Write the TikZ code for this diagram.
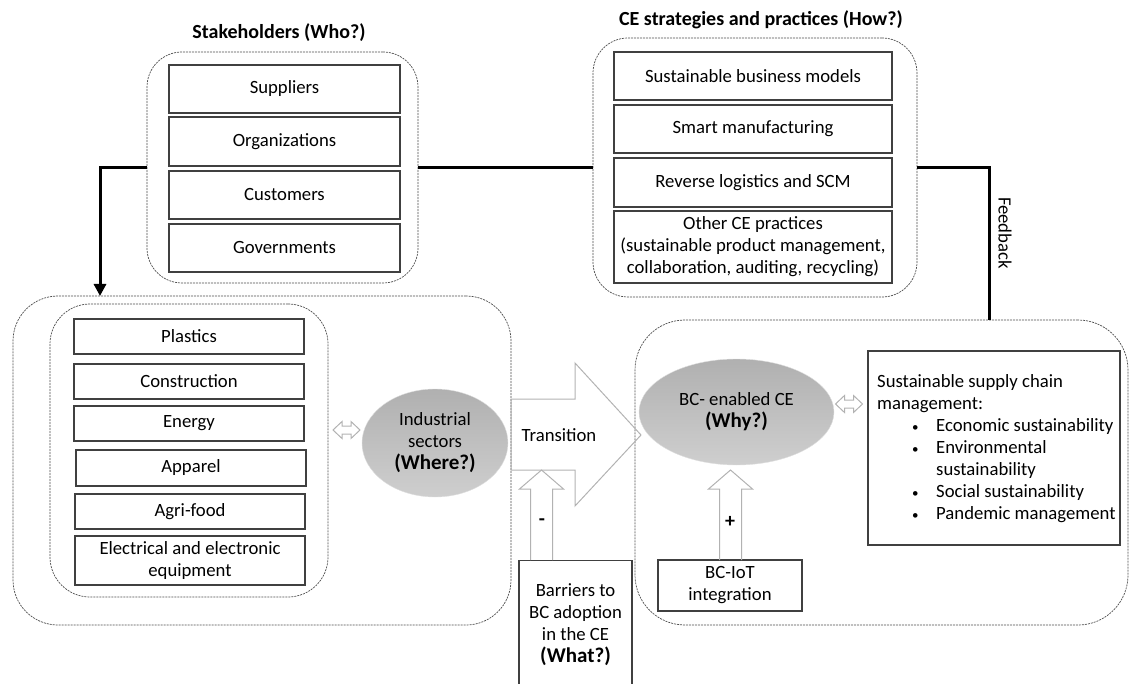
\documentclass[tikz,border=0pt]{standalone}
\usepackage{fontspec}
\setmainfont{Carlito}
\usetikzlibrary{shapes.geometric,arrows.meta}

\tikzset{
  item/.style={draw=black!75, line width=1.1pt, fill=white, align=center, inner sep=0pt},
  group/.style={draw=black!70, line width=0.7pt, dash pattern=on 2pt off 1pt,
    rounded corners=#1, inner sep=0pt, outer sep=0pt},
  bubble/.style={ellipse, top color=black!31, bottom color=black!19, draw=black!12, align=center, inner sep=0pt},
  hollow/.style={draw=black!30, line width=1pt, line join=miter},
  fb/.style={line width=3pt},
  title/.style={font=\fontsize{20}{24}\selectfont\bfseries}
}
% hollow up arrow: centre x, tip y, foot y
\def\hollowup(#1,#2,#3){\draw[hollow] (#1-11,#3) -- (#1-11,#2+19) -- (#1-22,#2+19) -- (#1,#2)
  -- (#1+22,#2+19) -- (#1+11,#2+19) -- (#1+11,#3);}
% hollow double arrow: centre x, centre y
\def\hollowboth(#1,#2){\draw[hollow] (#1-13.5,#2) -- (#1-4.5,#2-8.5) -- (#1-4.5,#2-4) -- (#1+4.5,#2-4)
  -- (#1+4.5,#2-8.5) -- (#1+13.5,#2) -- (#1+4.5,#2+8.5) -- (#1+4.5,#2+4) -- (#1-4.5,#2+4)
  -- (#1-4.5,#2+8.5) -- cycle;}
\newcommand{\bulletmark}{\makebox[24pt][l]{\fontsize{13}{13}\selectfont\textbullet}}
\newcommand{\bigbold}[1]{{\fontsize{21}{22}\selectfont\bfseries #1}}

\begin{document}
\begin{tikzpicture}[x=1pt,y=-1pt,font=\fontsize{18.7}{22}\selectfont]
	\useasboundingbox (0,0) rectangle (1129,684);
	
	%%%%% groups %%%%%
	\node[group=45, minimum width=498pt, minimum height=329pt] (leftzone) at (262,460.5) {};
	\node[group=50, minimum width=493pt, minimum height=305pt] (rightzone) at (881.5,472.5) {};
	\node[group=40, minimum width=278pt, minimum height=293pt] (sectors) at (189,450.5) {};
	\node[group=35, minimum width=271pt, minimum height=231pt] (stake) at (282.5,167.5) {};
	\node[group=35, minimum width=324pt, minimum height=259pt] (ce) at (755,167.5) {};
	
	\node[title] (staketitle) at (279,33) {Stakeholders (Who?)};
	\node[title] (cetitle) at (761,20) {CE strategies and practices (How?)};
	
	%%%%% stakeholders %%%%%
	\node[item, minimum width=231pt, minimum height=48pt] (suppliers) at (284.5,89) {Suppliers};
	\node[item, minimum width=231pt, minimum height=49pt] (organizations) at (284.5,141.5) {Organizations};
	\node[item, minimum width=231pt, minimum height=48pt] (customers) at (284.5,195) {Customers};
	\node[item, minimum width=231pt, minimum height=48pt] (governments) at (284.5,248) {Governments};
	
	%%%%% CE practices %%%%%
	\node[item, minimum width=278pt, minimum height=48pt] (business) at (753,76) {Sustainable business models};
	\node[item, minimum width=278pt, minimum height=48pt] (smart) at (753,129) {Smart manufacturing};
	\node[item, minimum width=278pt, minimum height=49pt] (reverse) at (753,182.5) {Reverse logistics and SCM};
	\node[item, minimum width=278pt, minimum height=72pt] (otherce) at (753,247) {Other CE practices\\(sustainable product management,\\collaboration, auditing, recycling)};
	
	%%%%% feedback %%%%%
	\coordinate (fbfoot) at (989,320);
	\coordinate (fbdrop) at (100,296);
	\draw[fb] (fbfoot) |- (ce.east);
	\draw[fb] (ce.west) -- (stake.east);
	\draw[fb, -{Triangle[width=12pt,length=12pt]}] (stake.west) -| (fbdrop);
	\node[rotate=-90] (fblabel) at (1005,233) {Feedback};
	
	%%%%% sectors %%%%%
	\node[item, minimum width=230pt, minimum height=35pt] (plastics) at (189,336.5) {Plastics};
	\node[item, minimum width=230pt, minimum height=35pt] (construction) at (189,381.5) {Construction};
	\node[item, minimum width=230pt, minimum height=35pt] (energy) at (189,423.5) {Energy};
	\node[item, minimum width=230pt, minimum height=36pt] (apparel) at (191,468) {Apparel};
	\node[item, minimum width=230pt, minimum height=35pt] (agrifood) at (190,511.5) {Agri-food};
	\node[item, minimum width=230pt, minimum height=49pt] (electrical) at (190,560.5) {Electrical and electronic\\equipment};
	
	\hollowboth(346.5,430)
	\node[bubble, minimum width=146pt, minimum height=108pt] (industry) at (435,443) {Industrial\\sectors\\\bigbold{(Where?)}};
	
	%%%%% transition %%%%%
	\draw[hollow] (511,399) -- (575,399) -- (575,363) -- (641,435) -- (575,506) -- (575,470) -- (511,470) -- cycle;
	\node (translabel) at (559,435) {Transition};
	
	\node[item, minimum width=113pt, minimum height=128pt, anchor=north] (barriers) at (575.5,560) {Barriers to\\BC adoption\\in the CE\\\bigbold{(What?)}};
	\hollowup(541.5,470,560)
	\node[font=\fontsize{20}{22}\selectfont\bfseries] (minus) at (542,522) {-};
	
	%%%%% BC-enabled CE %%%%%
	\node[bubble, minimum width=195pt, minimum height=106pt] (bcce) at (736.5,412) {BC- enabled CE\\\bigbold{(Why?)}};
	\node[item, minimum width=144pt, minimum height=51pt] (iot) at (730,585.5) {BC-IoT\\integration};
	\hollowup(730.5,470,560)
	\node[font=\fontsize{20}{22}\selectfont\bfseries] (plus) at (730,522) {+};
	
	\hollowboth(849,404)
	\node[item, minimum width=252pt, minimum height=194pt] (sscm) at (994,448) {};
	\node[anchor=north west, align=left, inner sep=0pt] (sscmtext) at (877,374) {Sustainable supply chain\\management:\\
	  \hspace*{35pt}\bulletmark Economic sustainability\\
	  \hspace*{35pt}\bulletmark Environmental\\
	  \hspace*{59pt}sustainability\\
	  \hspace*{35pt}\bulletmark Social sustainability\\
	  \hspace*{35pt}\bulletmark Pandemic management};
	
\end{tikzpicture}
\end{document}
